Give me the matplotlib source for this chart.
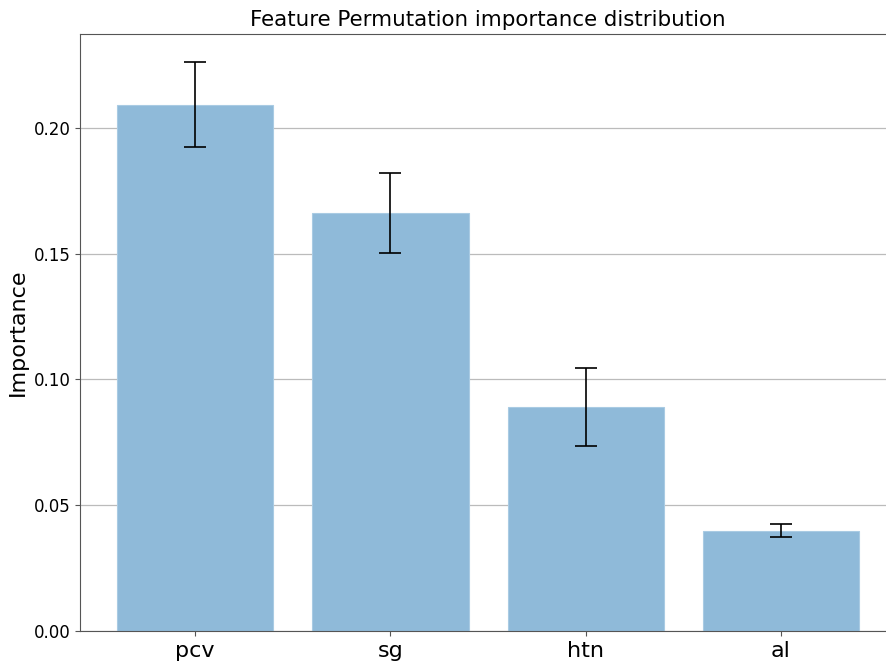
import matplotlib.pyplot as plt
import numpy as np

# feature permutation importances (mean, std)
features = ['pcv', 'sg', 'htn', 'al']
importance = [0.2091, 0.1663, 0.0892, 0.0399]
std_dev = [0.0169, 0.0159, 0.0155, 0.0027]

fig = plt.figure(figsize=(8.87, 6.62), dpi=100)
ax = fig.add_axes([0.0902, 0.0468, 0.92, 0.9018])

x = np.arange(len(features))
ax.bar(x, importance, width=0.8, yerr=std_dev, color='#8fbad9', edgecolor='#a9cbe3',
       linewidth=0.8, capsize=8,
       error_kw={'ecolor': 'black', 'elinewidth': 1.2, 'capthick': 1.2}, zorder=2)

ax.set_xticks(x)
ax.set_xticklabels(features, fontsize=16)
ax.tick_params(axis='y', labelsize=12)
ax.set_ylabel('Importance', fontsize=16)
ax.set_title('Feature Permutation importance distribution', fontsize=15.4)
ax.yaxis.grid(True, color='#bbbbbb', linewidth=0.9, zorder=0)
ax.set_axisbelow(True)
for s in ax.spines.values():
    s.set_color('#555555')
ax.spines['right'].set_visible(False)
ax.tick_params(colors='#555555', labelcolor='black')

fig.savefig('out.png', dpi=100)
